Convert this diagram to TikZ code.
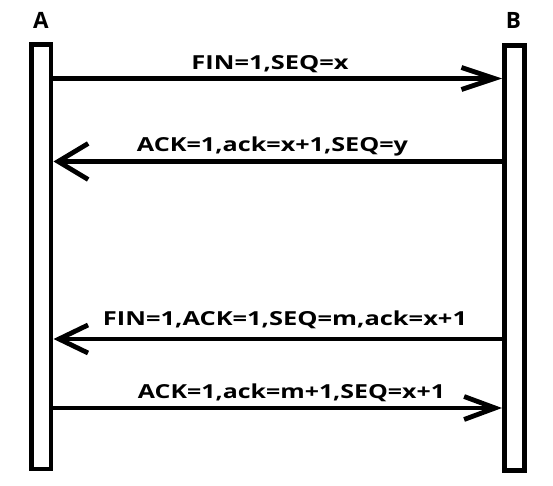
\documentclass[tikz,border=0pt]{standalone}
\usepackage{fontspec}
\setmainfont{Open Sans}
\usetikzlibrary{arrows.meta}
\newcommand{\wbox}[2]{\resizebox{#1}{\height}{#2}}
\tikzset{
  bar/.style={draw, line width=4.8pt, minimum width=19.5pt, inner sep=0pt, anchor=north},
  msg/.style={line width=4.8pt},
  lbl/.style={anchor=base, inner sep=0pt, font=\bfseries\fontsize{19.3}{21}\selectfont},
  end/.style={anchor=base, inner sep=0pt, font=\bfseries\fontsize{22.5}{24}\selectfont},
}
\begin{document}
\begin{tikzpicture}[x=1pt,y=-1pt]
\useasboundingbox (0,0) rectangle (553,486);
\node[bar, minimum height=424pt] (A) at (41.25,42.5) {};
\node[bar, minimum height=425pt] (B) at (514.5,43) {};
\node[end] (la) at (41,29) {A};
\node[end] (lb) at (513.5,29) {B};
\coordinate (a1) at (51,78.5);  \coordinate (b1) at (504.5,78.5);
\coordinate (a2) at (51,161.5); \coordinate (b2) at (504.5,161.5);
\coordinate (a3) at (51,339);   \coordinate (b3) at (504.5,339);
\coordinate (a4) at (51,408);   \coordinate (b4) at (504.5,408);
\draw[msg, -{Straight Barb[length=33pt,width=22pt]}, shorten >=2.5pt] (a1) -- (b1);
\draw[msg, -{Straight Barb[length=30pt,width=36pt]}, shorten >=2.5pt] (b2) -- (a2);
\draw[msg, -{Straight Barb[length=29pt,width=28pt]}, shorten >=2.5pt] (b3) -- (a3);
\draw[msg, -{Straight Barb[length=31pt,width=23pt]}, shorten >=2.5pt] (a4) -- (b4);
\node[lbl] (t1) at (270,70) {\wbox{157pt}{FIN=1,SEQ=x}};
\node[lbl] (t2) at (272.5,151.7) {\wbox{271pt}{ACK=1,ack=x+1,SEQ=y}};
\node[lbl] (t3) at (285,325) {\wbox{364pt}{FIN=1,ACK=1,SEQ=m,ack=x+1}};
\node[lbl] (t4) at (291.5,398.7) {\wbox{307pt}{ACK=1,ack=m+1,SEQ=x+1}};
\end{tikzpicture}
\end{document}
